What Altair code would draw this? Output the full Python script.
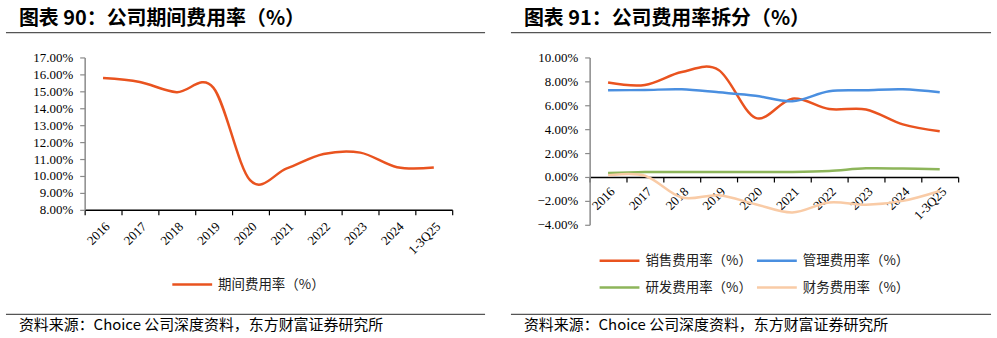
import altair as alt
import pandas as pd

years = ["2016", "2017", "2018", "2019", "2020", "2021", "2022", "2023", "2024", "1-3Q25"]

period_rate = [15.78, 15.55, 14.95, 15.22, 9.75, 10.45, 11.30, 11.38, 10.52, 10.50]

sales_rate = [7.90, 7.70, 8.78, 8.95, 4.95, 6.55, 5.68, 5.65, 4.40, 3.83]
admin_rate = [7.25, 7.28, 7.33, 7.08, 6.80, 6.33, 7.17, 7.25, 7.33, 7.08]
rd_rate = [0.33, 0.42, 0.42, 0.42, 0.42, 0.42, 0.50, 0.72, 0.70, 0.64]
fin_rate = [0.14, 0.10, -1.72, -1.53, -2.28, -2.97, -2.14, -2.33, -2.00, -1.17]

left_series = ["期间费用率（%）"]
left_colors = ["#E9531F"]
right_series = ["销售费用率（%）", "管理费用率（%）", "研发费用率（%）", "财务费用率（%）"]
right_colors = ["#E9531F", "#4A8FE0", "#8DB55A", "#F9CBA6"]

title_left = "图表 90：公司期间费用率（%）"
title_right = "图表 91：公司费用率拆分（%）"
source_text = "资料来源：Choice 公司深度资料，东方财富证券研究所"

CJK = "Noto Sans CJK SC"
SERIF = "Liberation Serif"


def one(text):
    return pd.DataFrame({"t": [text]})


def x_enc(offset=0, pad=3):
    return alt.X(
        "年份:O", sort=years, bandPosition=0.5,
        scale=alt.Scale(type="band", paddingInner=0, paddingOuter=0),
        axis=alt.Axis(title=None, labelAngle=-45, labelAlign="right", labelBaseline="top",
                      labelPadding=pad, tickBand="extent", tickSize=5, domainColor="black",
                      tickColor="black", domainWidth=1.5, tickWidth=1.2, labelFont=SERIF,
                      labelFontSize=13, labelColor="black", grid=False, offset=offset),
    )


def y_enc(lo, hi, step):
    return alt.Y(
        "值:Q", scale=alt.Scale(domain=[lo, hi], nice=False, zero=False),
        axis=alt.Axis(title=None, values=list(range(lo, hi + 1, step)),
                      labelExpr="format(datum.value, '.2f') + '%'", tickSize=5,
                      labelPadding=7, domainColor="#8a8a8a", tickColor="#8a8a8a",
                      domainWidth=1.5, tickWidth=1.2, labelFont=SERIF, labelFontSize=13,
                      labelColor="black", grid=False),
    )


def decorations(plot_w, left_anchor, right_anchor):
    layers = []
    # invisible anchor defining the panel bounds
    layers.append(alt.Chart(one("a")).mark_rule(strokeOpacity=0, opacity=0).encode(
        x=alt.value(left_anchor), x2=alt.value(right_anchor),
        y=alt.value(-56), y2=alt.value(282)))
    # header and footer rules
    for yv in (-25, 258):
        layers.append(alt.Chart(one("r")).mark_rule(color="#555555", strokeWidth=1.3).encode(
            x=alt.value(-79), x2=alt.value(plot_w + 33), y=alt.value(yv)))
    return layers


def text_layer(text, x, y, size, weight="normal", color="black"):
    return alt.Chart(one(text)).mark_text(
        align="left", baseline="middle", font=CJK, fontSize=size, fontWeight=weight,
        color=color).encode(text="t:N", x=alt.value(x), y=alt.value(y))


def legend_entry(name, color, x, y):
    line = alt.Chart(one(name)).mark_rule(color=color, strokeWidth=2.5).encode(
        x=alt.value(x), x2=alt.value(x + 40), y=alt.value(y))
    txt = alt.Chart(one(name)).mark_text(
        align="left", baseline="middle", font=CJK, fontSize=13.5, color="#222222").encode(
        text="t:N", x=alt.value(x + 46), y=alt.value(y))
    return [line, txt]


# ---- left panel ----
df_left = pd.DataFrame({"年份": years, "序": list(range(len(years))), "值": period_rate})
W1, H1 = 369, 153
line_left = alt.Chart(df_left).mark_line(
    interpolate="cardinal", strokeWidth=2.5, color=left_colors[0]).encode(
    x=x_enc(pad=5), y=y_enc(8, 17, 1), order=alt.Order("序:Q"),
)
left_layers = [line_left]
left_layers += decorations(W1, -84, 415)
left_layers.append(text_layer(title_left, -66, -39, 20, "bold"))
left_layers.append(text_layer(source_text, -66, 269, 15))
left_layers += legend_entry(left_series[0], left_colors[0], 88, 228)
left = alt.layer(*left_layers).properties(width=W1, height=H1)

# ---- right panel ----
rows = []
for name, vals in zip(right_series, [sales_rate, admin_rate, rd_rate, fin_rate]):
    for i, (yr, v) in enumerate(zip(years, vals)):
        rows.append({"年份": yr, "序": i, "系列": name, "值": v})
df_right = pd.DataFrame(rows)
W2, H2 = 370, 168
line_right = alt.Chart(df_right).mark_line(interpolate="cardinal", strokeWidth=2.5).encode(
    x=x_enc(offset=-48, pad=3), y=y_enc(-4, 10, 2),
    color=alt.Color("系列:N", sort=right_series,
                    scale=alt.Scale(domain=right_series, range=right_colors), legend=None),
    order=alt.Order("序:Q"),
)
right_layers = [line_right]
right_layers += decorations(W2, -90, 408)
right_layers.append(text_layer(title_right, -66, -39, 20, "bold"))
right_layers.append(text_layer(source_text, -66, 269, 15))
legend_pos = [(10, 204), (168, 204), (10, 231), (168, 231)]
for name, col, (lx, ly) in zip(right_series, right_colors, legend_pos):
    right_layers += legend_entry(name, col, lx, ly)
right = alt.layer(*right_layers).properties(width=W2, height=H2)

chart = alt.hconcat(left, right, spacing=0).resolve_scale(
    color="independent", x="independent", y="independent"
).properties(
    padding={"left": 0, "right": 0, "top": 0, "bottom": 0},
    background="white",
).configure_view(stroke="transparent")

chart.save("out.html", embed_options={"renderer": "svg", "actions": False})
